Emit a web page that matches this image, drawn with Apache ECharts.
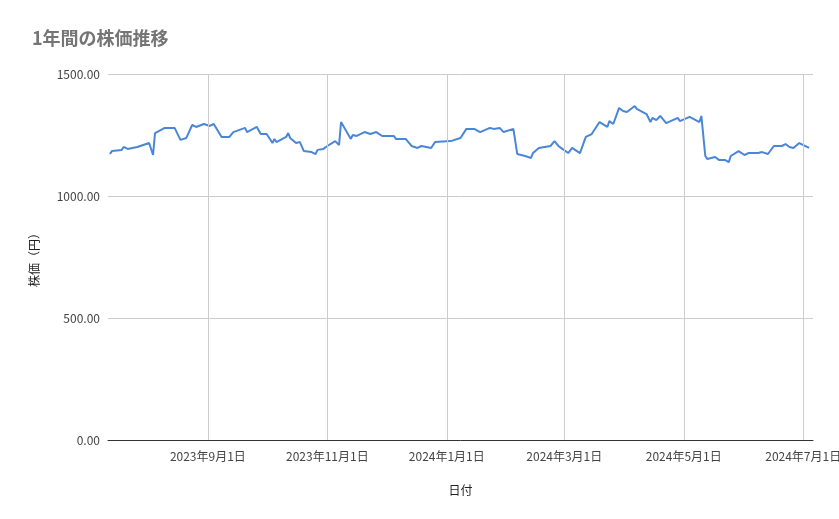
<!DOCTYPE html>
<html><head><meta charset="utf-8">
<script src="https://cdn.jsdelivr.net/npm/echarts@6/dist/echarts.min.js"></script>
<style>html,body{margin:0;padding:0;background:#fff}#c{width:839px;height:519px}</style>
</head><body><div id="c"></div>
<script>
// days since 2023-07-12
const dayOffsets = [1,2,7,8,10,15,18,21,23,24,29,34,37,40,43,45,49,52,54,58,62,64,70,71,76,78,81,84,85,86,91,92,93,96,98,100,104,106,107,110,112,116,118,119,124,125,127,131,134,137,140,146,147,152,153,155,158,160,165,167,175,176,180,183,187,188,190,195,197,200,202,207,209,213,216,217,220,221,223,226,228,230,232,235,237,241,244,247,251,255,256,258,261,263,265,269,270,271,275,277,278,280,282,285,291,292,297,302,303,305,306,310,312,315,317,318,322,325,327,332,334,337,340,344,346,348,350,353,358];
const prices = [1172,1184,1189,1201,1193,1201,1209,1217,1168,1258,1279,1279,1230,1238,1291,1283,1295,1287,1295,1242,1242,1262,1279,1262,1283,1254,1254,1217,1234,1221,1242,1258,1238,1217,1221,1184,1180,1172,1189,1193,1205,1225,1209,1303,1234,1250,1246,1262,1254,1262,1246,1246,1234,1234,1242,1205,1197,1205,1197,1221,1225,1230,1238,1275,1275,1283,1262,1279,1275,1279,1262,1275,1172,1164,1156,1176,1197,1189,1201,1205,1225,1205,1193,1176,1197,1176,1242,1254,1303,1283,1307,1295,1361,1348,1344,1369,1357,1361,1336,1303,1320,1311,1328,1299,1320,1307,1324,1303,1328,1164,1152,1160,1148,1148,1139,1164,1184,1168,1176,1176,1180,1172,1205,1205,1213,1201,1197,1217,1197];
const tickDays = [51,112,173,233,294,355];
const tickLabels = ['2023年9月1日','2023年11月1日','2024年1月1日','2024年3月1日','2024年5月1日','2024年7月1日'];
const data = dayOffsets.map((d,i)=>[d,prices[i]]);
const chart = echarts.init(document.getElementById('c'));
const font = '"Noto Sans CJK JP", Roboto, sans-serif';
chart.setOption({
  animation:false,
  textStyle:{fontFamily:font},
  title:{text:'1年間の株価推移',left:27,top:24,textStyle:{color:'#757575',fontSize:18,fontWeight:'bold',fontFamily:font}},
  grid:{left:108,right:26,top:74,bottom:79,outerBoundsMode:'none',containLabel:false},
  xAxis:{type:'value',min:0,max:360,name:'日付',nameLocation:'middle',nameGap:44,
    nameTextStyle:{color:'#222',fontSize:12},
    axisLine:{show:true,lineStyle:{color:'#333'}},axisTick:{show:false},splitLine:{show:false},
    axisLabel:{customValues:tickDays,color:'#444',fontSize:12,margin:10,
      formatter:v=>tickLabels[tickDays.indexOf(v)]||''}},
  yAxis:{type:'value',min:0,max:1500,interval:500,name:'株価（円）',nameLocation:'middle',nameGap:68,
    nameTextStyle:{color:'#222',fontSize:12},
    axisLine:{show:false},axisTick:{show:false},
    splitLine:{lineStyle:{color:'#cccccc'}},
    axisLabel:{color:'#444',fontSize:12,formatter:v=>v.toFixed(2)}},
  series:[{type:'line',data:data,showSymbol:false,lineStyle:{color:'#4a86d8',width:2},
    markLine:{silent:true,symbol:'none',label:{show:false},lineStyle:{color:'#cccccc',type:'solid',width:1},
      data:tickDays.map(d=>({xAxis:d}))}}]
});
</script></body></html>
